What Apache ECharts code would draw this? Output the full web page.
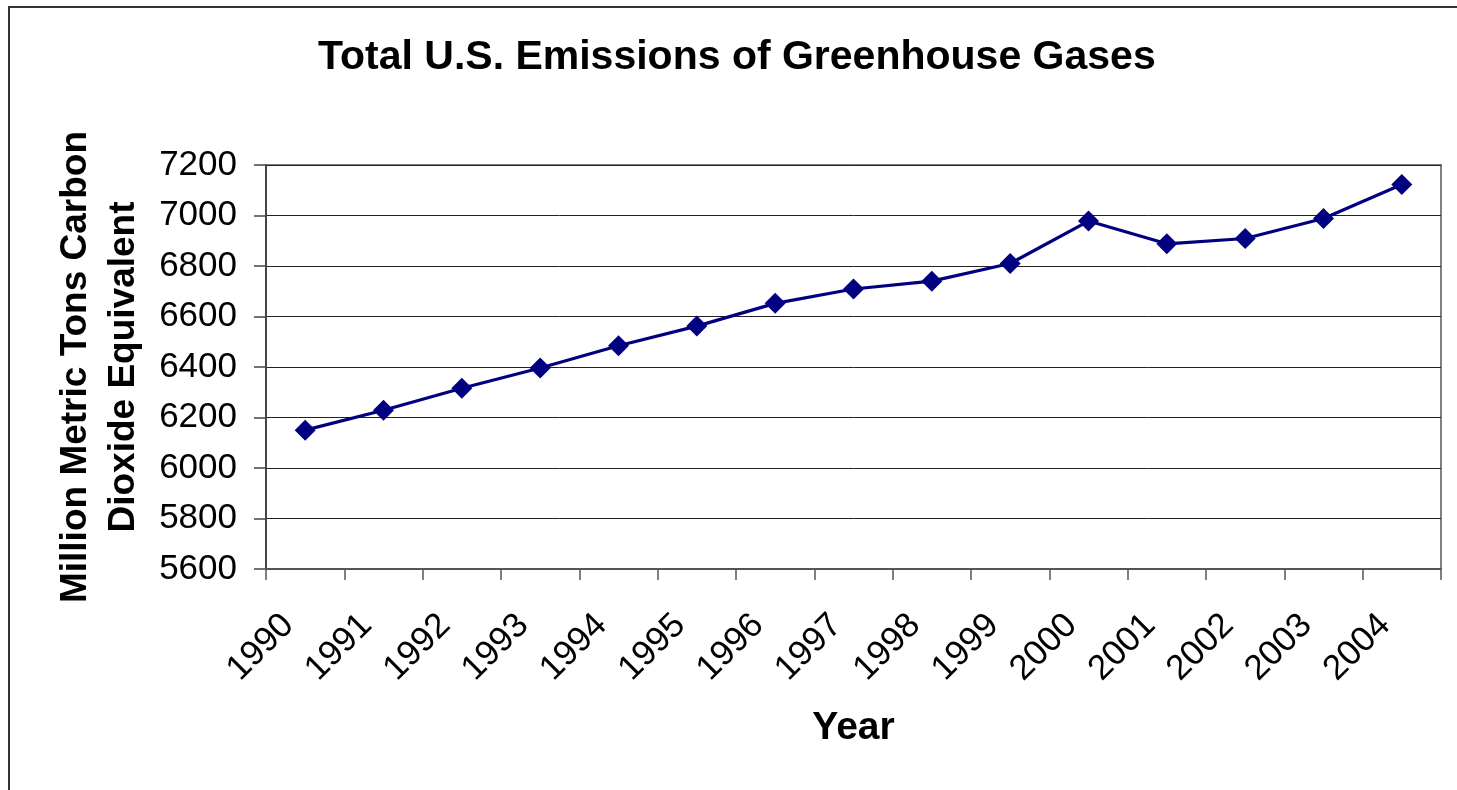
<!DOCTYPE html>
<html>
<head>
<meta charset="utf-8">
<script src="https://cdn.jsdelivr.net/npm/echarts@6/dist/echarts.min.js"></script>
<style>
html,body{margin:0;padding:0;background:#fff;overflow:hidden;}
#chart{width:1457px;height:790px;}
</style>
</head>
<body>
<div id="chart"></div>
<script>
const titleText = 'Total U.S. Emissions of Greenhouse Gases';
const years = ['1990','1991','1992','1993','1994','1995','1996','1997','1998','1999','2000','2001','2002','2003','2004'];
const emissions = [6150, 6229, 6316, 6396, 6484, 6562, 6652, 6709, 6740, 6810, 6978, 6888, 6909, 6988, 7123];
const yTicks = [5600, 5800, 6000, 6200, 6400, 6600, 6800, 7000, 7200];
const yAxisTitle = 'Million Metric Tons Carbon\nDioxide Equivalent';
const xAxisTitle = 'Year';

const font = 'Liberation Sans, Arial, sans-serif';
const chart = echarts.init(document.getElementById('chart'));
chart.setOption({
  animation: false,
  backgroundColor: '#fff',
  graphic: [{
    type: 'polyline',
    shape: { points: [[9, 800], [9, 7], [1470, 7]] },
    style: { fill: 'none', stroke: '#333', lineWidth: 2 },
    silent: true, z: -1
  }],
  title: {
    text: titleText, left: 318, top: 37, padding: 0,
    textStyle: { fontFamily: font, fontWeight: 'bold', fontSize: 41, color: '#000' }
  },
  grid: {
    left: 266, right: 16, top: 165, bottom: 221,
    show: true, borderColor: '#808080', borderWidth: 2, backgroundColor: '#fff'
  },
  xAxis: {
    type: 'category', data: years, boundaryGap: true,
    name: xAxisTitle, nameLocation: 'middle', nameGap: 140,
    nameTextStyle: { fontFamily: font, fontWeight: 'bold', fontSize: 39, color: '#000' },
    axisLine: { lineStyle: { color: '#555', width: 2 } },
    axisTick: { show: true, length: 11, lineStyle: { color: '#555', width: 1.5 } },
    axisLabel: { rotate: 45, margin: 34, padding: [0, 24, 0, 0], fontFamily: font, fontSize: 35, color: '#000', interval: 0 },
    splitLine: { show: false }
  },
  yAxis: {
    type: 'value', min: yTicks[0], max: yTicks[yTicks.length - 1], interval: 200,
    name: yAxisTitle, nameLocation: 'middle', nameGap: 115, nameRotate: 90,
    nameTextStyle: { fontFamily: font, fontWeight: 'bold', fontSize: 37, lineHeight: 48, color: '#000' },
    axisLine: { show: true, lineStyle: { color: '#444', width: 2 } },
    axisTick: { show: true, length: 12, lineStyle: { color: '#444', width: 1.5 } },
    axisLabel: { margin: 29, fontFamily: font, fontSize: 35, color: '#000', formatter: v => String(v) },
    splitLine: { show: true, lineStyle: { color: '#222', width: 1 } }
  },
  series: [{
    type: 'line', data: emissions,
    symbol: 'diamond', symbolSize: 21,
    lineStyle: { color: '#000080', width: 3.2 },
    itemStyle: { color: '#000080' }
  }]
});
</script>
</body>
</html>
